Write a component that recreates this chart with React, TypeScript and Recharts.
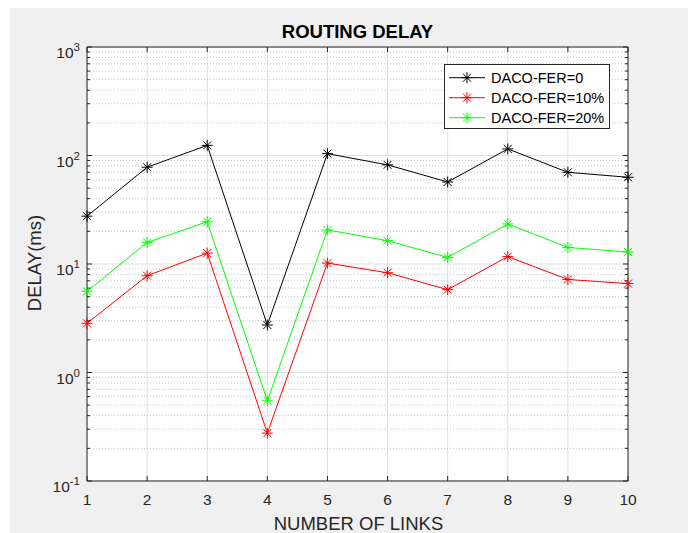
import React from 'react';
import { LineChart, Line, XAxis, YAxis, CartesianGrid, Legend } from 'recharts';

// ---- data ----
const LINKS = [1, 2, 3, 4, 5, 6, 7, 8, 9, 10];
const DELAY_FER0 = [27.6, 78, 124, 2.74, 104, 82, 57, 115, 70, 63];
const DELAY_FER10 = [2.84, 7.8, 12.6, 0.276, 10.2, 8.3, 5.8, 11.7, 7.2, 6.6];
const DELAY_FER20 = [5.6, 15.8, 24.5, 0.548, 20.6, 16.4, 11.5, 23.4, 14.2, 12.9];
const SERIES_NAMES = ['DACO-FER=0', 'DACO-FER=10%', 'DACO-FER=20%'];
const SERIES_KEYS = ['fer0', 'fer10', 'fer20'];
const SERIES_COLORS = ['#000000', '#ff0000', '#00ff00'];
const Y_DECADES = [0.1, 1, 10, 100, 1000];
const Y_EXPONENTS = ['-1', '0', '1', '2', '3'];
const MINOR_MULT = [2, 3, 4, 5, 6, 7, 8, 9];
const TITLE = 'ROUTING DELAY';
const X_LABEL = 'NUMBER OF LINKS';
const Y_LABEL = 'DELAY(ms)';

const data = LINKS.map((n, i) => ({
  n,
  fer0: DELAY_FER0[i],
  fer10: DELAY_FER10[i],
  fer20: DELAY_FER20[i],
}));

const Y_MINOR = Y_DECADES.slice(0, -1).flatMap((d) => MINOR_MULT.map((m) => +(d * m).toPrecision(6)));
const Y_ALL_TICKS = [...Y_DECADES, ...Y_MINOR].sort((a, b) => a - b);

const FONT = '"Liberation Sans", Arial, Helvetica, sans-serif';
const AXIS = '#262626';

const majorIndex = (v: number) => Y_DECADES.findIndex((d) => Math.abs(d - v) < d * 1e-6);

const LeftTick = (props: any) => {
  const { x, y, payload } = props;
  const idx = majorIndex(payload.value);
  const major = idx >= 0;
  return (
    <g>
      <line x1={x} y1={y} x2={x + (major ? 5 : 3)} y2={y} stroke={AXIS} strokeWidth={1} />
      {major && (
        <text x={x - 7} y={y + 11} textAnchor="end" fontSize={15.5} fill={AXIS} fontFamily={FONT}>
          <tspan>10</tspan>
          <tspan dy={-7} fontSize={11.5}>{Y_EXPONENTS[idx]}</tspan>
        </text>
      )}
    </g>
  );
};

const RightTick = (props: any) => {
  const { x, y, payload } = props;
  const major = majorIndex(payload.value) >= 0;
  return <line x1={x} y1={y} x2={x - (major ? 5 : 3)} y2={y} stroke={AXIS} strokeWidth={1} />;
};

const BottomTick = (props: any) => {
  const { x, y, payload } = props;
  return (
    <g>
      <line x1={x} y1={y} x2={x} y2={y - 5} stroke={AXIS} strokeWidth={1} />
      <text x={x} y={y + 24} textAnchor="middle" fontSize={15.5} fill={AXIS} fontFamily={FONT}>
        {payload.value}
      </text>
    </g>
  );
};

const TopTick = (props: any) => {
  const { x, y } = props;
  return <line x1={x} y1={y} x2={x} y2={y + 5} stroke={AXIS} strokeWidth={1} />;
};

const Asterisk = ({ cx, cy, color }: { cx: number; cy: number; color: string }) => {
  const r = 5.5;
  const d = 4;
  return (
    <g stroke={color} strokeWidth={1} fill="none">
      <line x1={cx - r} y1={cy} x2={cx + r} y2={cy} />
      <line x1={cx} y1={cy - r} x2={cx} y2={cy + r} />
      <line x1={cx - d} y1={cy - d} x2={cx + d} y2={cy + d} />
      <line x1={cx - d} y1={cy + d} x2={cx + d} y2={cy - d} />
    </g>
  );
};

const LegendBox = () => (
  <svg width={166} height={65} style={{ display: 'block' }}>
    <rect x={0.5} y={0.5} width={165} height={64} fill="#ffffff" stroke={AXIS} strokeWidth={1} />
    {SERIES_NAMES.map((name, i) => {
      const cy = 13.7 + i * 20;
      return (
        <g key={name}>
          <line x1={5} y1={cy} x2={41} y2={cy} stroke={SERIES_COLORS[i]} strokeWidth={1} />
          <Asterisk cx={23} cy={cy} color={SERIES_COLORS[i]} />
          <text x={47} y={cy + 5} fontSize={14.5} fill="#000" fontFamily={FONT}>
            {name}
          </text>
        </g>
      );
    })}
  </svg>
);

export default function App() {
  return (
    <div
      style={{
        position: 'fixed',
        left: 0,
        top: 0,
        width: 688,
        height: 533,
        overflow: 'hidden',
        background: '#ffffff',
        fontFamily: FONT,
      }}
    >
      <div style={{ position: 'absolute', left: 10, top: 8, width: 678, height: 525, background: '#f0f0f0' }} />
      <div style={{ position: 'absolute', left: 0, top: 0 }}>
        <LineChart width={688} height={533} data={data} margin={{ top: 0, right: 0, bottom: 0, left: 0 }}>
          <CartesianGrid
            fill="#ffffff"
            stroke="#dfdfdf"
            strokeWidth={1}
            verticalValues={LINKS}
            horizontalValues={Y_DECADES}
          />
          <CartesianGrid
            vertical={false}
            horizontalValues={Y_MINOR}
            stroke="#c4c4c4"
            strokeWidth={1}
            strokeDasharray="1 2"
          />
          <XAxis
            dataKey="n"
            type="number"
            domain={[1, 10]}
            ticks={LINKS}
            interval={0}
            height={52}
            tickSize={0}
            tickMargin={0}
            tickLine={false}
            axisLine={{ stroke: AXIS, strokeWidth: 1 }}
            tick={(p: any) => <BottomTick {...p} />}
            label={{
              content: (p: any) => {
                const vb = p.viewBox;
                return (
                  <text x={vb.x + vb.width / 2 + 1} y={530} textAnchor="middle" fontSize={18.5} fill={AXIS} fontFamily={FONT}>
                    {X_LABEL}
                  </text>
                );
              },
            }}
          />
          <XAxis
            xAxisId="top"
            orientation="top"
            dataKey="n"
            type="number"
            domain={[1, 10]}
            ticks={LINKS}
            interval={0}
            height={47}
            tickSize={0}
            tickMargin={0}
            tickLine={false}
            axisLine={{ stroke: AXIS, strokeWidth: 1 }}
            tick={(p: any) => <TopTick {...p} />}
            label={{
              content: (p: any) => {
                const vb = p.viewBox;
                return (
                  <text x={vb.x + vb.width / 2} y={38} textAnchor="middle" fontSize={18.5} fontWeight="bold" fill="#000" fontFamily={FONT}>
                    {TITLE}
                  </text>
                );
              },
            }}
          />
          <YAxis
            type="number"
            scale="log"
            domain={[0.1, 1000]}
            allowDataOverflow
            ticks={Y_ALL_TICKS}
            interval={0}
            width={87}
            tickSize={0}
            tickMargin={0}
            tickLine={false}
            axisLine={{ stroke: AXIS, strokeWidth: 1 }}
            tick={(p: any) => <LeftTick {...p} />}
            label={{
              content: () => (
                <text
                  x={34}
                  y={263}
                  transform="rotate(-90, 34, 263)"
                  textAnchor="middle"
                  dominantBaseline="central"
                  fontSize={18.5}
                  fill={AXIS}
                  fontFamily={FONT}
                >
                  {Y_LABEL}
                </text>
              ),
            }}
          />
          <YAxis
            yAxisId="right"
            orientation="right"
            type="number"
            scale="log"
            domain={[0.1, 1000]}
            allowDataOverflow
            ticks={Y_ALL_TICKS}
            interval={0}
            width={60}
            tickSize={0}
            tickMargin={0}
            tickLine={false}
            axisLine={{ stroke: AXIS, strokeWidth: 1 }}
            tick={(p: any) => <RightTick {...p} />}
          />
          <Legend
            layout="horizontal"
            verticalAlign="middle"
            align="center"
            width={166}
            wrapperStyle={{ position: 'absolute', left: 444, top: 64, width: 166, height: 65 }}
            content={() => <LegendBox />}
          />
          {SERIES_KEYS.map((k, i) => (
            <Line
              key={k}
              type="linear"
              dataKey={k}
              name={SERIES_NAMES[i]}
              stroke={SERIES_COLORS[i]}
              strokeWidth={1}
              isAnimationActive={false}
              activeDot={false}
              dot={(p: any) => <Asterisk key={`${k}-${p.index}`} cx={p.cx} cy={p.cy} color={SERIES_COLORS[i]} />}
            />
          ))}
        </LineChart>
      </div>
    </div>
  );
}
